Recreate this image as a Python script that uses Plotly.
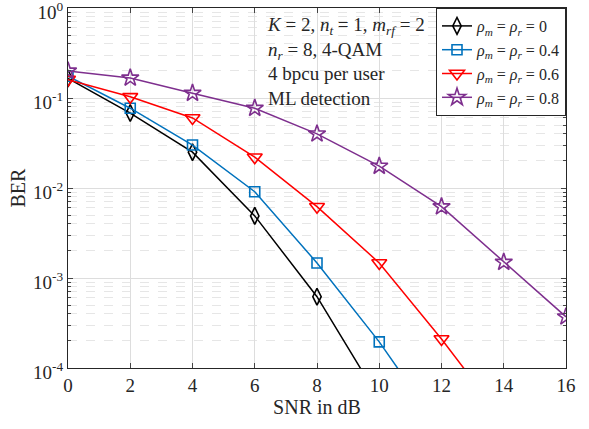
import plotly.graph_objects as go

snr = [0, 2, 4, 6, 8, 10, 12, 14, 16]
ber_0 = [0.165, 0.068, 0.025, 0.0049, 0.00062, 0.000045]
ber_04 = [0.175, 0.077, 0.030, 0.0091, 0.00147, 0.000195, 0.00002]
ber_06 = [0.16, 0.103, 0.060, 0.022, 0.0062, 0.00147, 0.00021, 0.000026]
ber_08 = [0.20, 0.167, 0.113, 0.077, 0.040, 0.0175, 0.0062, 0.0015, 0.00037]

names = ["<i>ρ<sub>m</sub></i> = <i>ρ<sub>r</sub></i> = 0",
         "<i>ρ<sub>m</sub></i> = <i>ρ<sub>r</sub></i> = 0.4",
         "<i>ρ<sub>m</sub></i> = <i>ρ<sub>r</sub></i> = 0.6",
         "<i>ρ<sub>m</sub></i> = <i>ρ<sub>r</sub></i> = 0.8"]
colors = ["#000000", "#0072BD", "#FF0000", "#7E2F8E"]
symbols = ["diamond-tall-open", "square-open", "triangle-down-open", "star-open"]
sizes = [12, 10, 13, 13]
series = [ber_0, ber_04, ber_06, ber_08]

yticks = [1e-4, 1e-3, 1e-2, 1e-1, 1]
yticktext = ["10<sup>-4</sup>", "10<sup>-3</sup>", "10<sup>-2</sup>", "10<sup>-1</sup>", "10<sup>0</sup>"]
xticks = [0, 2, 4, 6, 8, 10, 12, 14, 16]

font = "Liberation Serif"
ink = "#262626"
fig = go.Figure()
for ys, n, c, s, sz in zip(series, names, colors, symbols, sizes):
    fig.add_trace(go.Scatter(
        x=snr[:len(ys)], y=ys, name=n, mode="lines+markers",
        line=dict(color=c, width=1.5),
        marker=dict(symbol=s, size=sz, color=c, line=dict(width=1.6, color=c)),
    ))

fig.add_annotation(
    x=0.395, y=0.99, xref="paper", yref="paper", xanchor="left", yanchor="top",
    align="left", showarrow=False,
    text=("<i>K</i> = 2, <i>n<sub>t</sub></i> = 1, <i>m<sub>rf</sub></i> = 2<br>"
          "<i>n<sub>r</sub></i> = 8, 4-QAM<br>4 bpcu per user<br>ML detection"),
    font=dict(family=font, size=19, color=ink),
)

fig.update_layout(
    width=589, height=429,
    margin=dict(l=68, r=23, t=8, b=61, autoexpand=False),
    paper_bgcolor="white", plot_bgcolor="white",
    font=dict(family=font, size=18, color=ink),
    showlegend=True,
    legend=dict(x=1, y=1, xanchor="right", yanchor="top",
                bgcolor="white", bordercolor=ink, borderwidth=1,
                font=dict(family=font, size=16, color=ink),
                itemwidth=30, tracegroupgap=0),
    xaxis=dict(range=[0, 16], tickvals=xticks, ticks="inside", ticklen=5,
               tickfont=dict(family=font, size=19, color=ink),
               ticklabeloverflow="allow", automargin=False,
               showline=True, linecolor=ink, linewidth=1, mirror="ticks",
               showgrid=True, gridcolor="#DDDDDD", gridwidth=1, zeroline=False,
               title=dict(text="SNR in dB", standoff=4, font=dict(family=font, size=20, color=ink))),
    yaxis=dict(type="log", range=[-4, 0], tickvals=yticks, ticktext=yticktext,
               ticks="inside", ticklen=5, ticklabelshift=4,
               tickfont=dict(family=font, size=19, color=ink),
               ticklabeloverflow="allow", automargin=False,
               showline=True, linecolor=ink, linewidth=1, mirror="ticks",
               showgrid=True, gridcolor="#DDDDDD", gridwidth=1, zeroline=False,
               minor=dict(ticks="inside", ticklen=3, showgrid=True,
                          gridcolor="#E6E6E6", griddash="dash", gridwidth=1,
                          dtick="D1"),
               title=dict(text="BER", standoff=2, font=dict(family=font, size=20, color=ink))),
)

fig.write_html("out.html")
